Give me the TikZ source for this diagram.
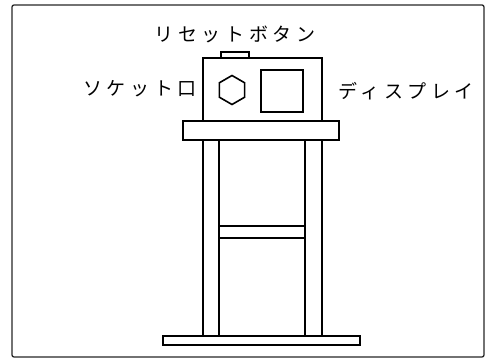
\documentclass[tikz,border=0pt]{standalone}
\usepackage{fontspec}
\newfontfamily\jpfont[LetterSpace=24]{Noto Sans CJK JP}

\begin{document}
\begin{tikzpicture}[x=1pt,y=-1pt,
font=\jpfont\fontsize{19}{21}\selectfont,
outline/.style={draw=black!85, line width=1.3pt, rounded corners=2pt},
part/.style={draw=black, line width=1.6pt},
callout/.style={inner sep=0pt, anchor=center}
]
\useasboundingbox (0,0) rectangle (491,358);
\draw[outline] (12,5) rectangle (484,357);

% stand: top board, two legs, cross bar and foot
\draw[part] (183,121) rectangle (339,140);
\draw[part] (203,140) rectangle (219,336);
\draw[part] (305,140) rectangle (322,336);
\draw[part] (219,226) rectangle (305,238);
\draw[part] (163,336) rectangle (360,345);

% the unit on top
\draw[part] (203,58) rectangle (322,121);
\draw[part] (221,52) rectangle (249,58);
\draw[part] (232,90) +(30:14.5) -- +(90:14.5) -- +(150:14.5) -- +(210:14.5) -- +(270:14.5) -- +(330:14.5) -- cycle;
\draw[part] (261,70) rectangle (303,112);

\node[callout] (reset) at (235,34) {リセットボタン};
\node[callout] (socket) at (140,89) {ソケット口};
\node[callout] (display) at (406,91) {ディスプレイ};
\end{tikzpicture}
\end{document}
